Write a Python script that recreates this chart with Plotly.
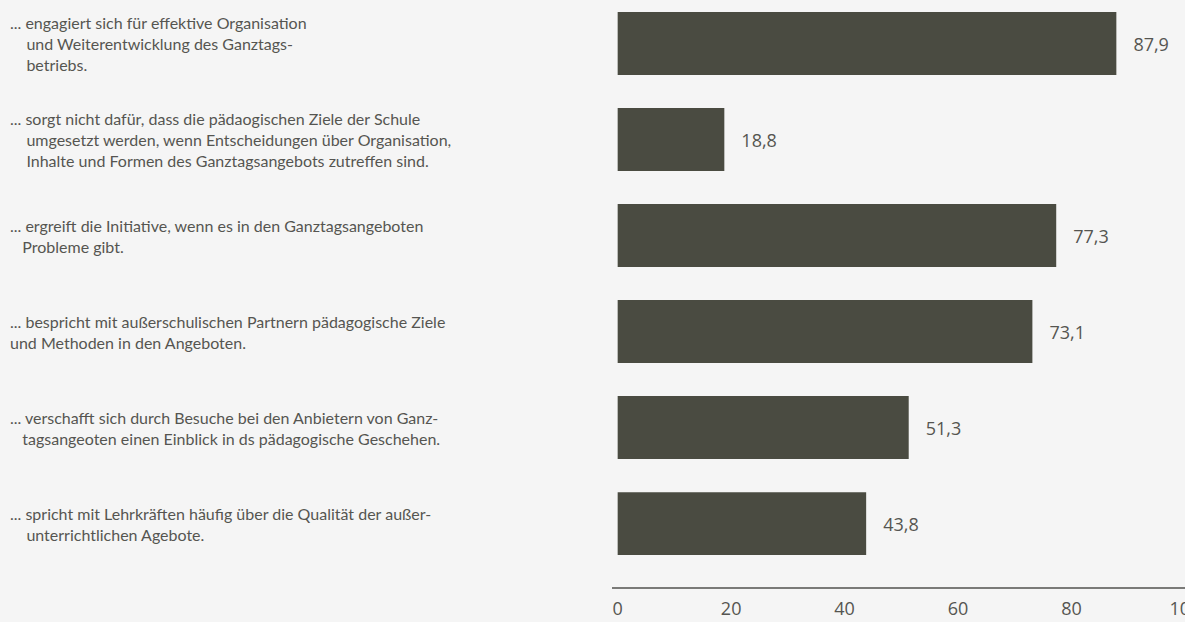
import plotly.graph_objects as go

labels = [
    "... engagiert sich für effektive Organisation<br>\u00a0\u00a0\u00a0\u00a0und Weiterentwicklung des Ganztags-<br>\u00a0\u00a0\u00a0\u00a0betriebs.",
    "... sorgt nicht dafür, dass die pädaogischen Ziele der Schule<br>\u00a0\u00a0\u00a0\u00a0umgesetzt werden, wenn Entscheidungen über Organisation,<br>\u00a0\u00a0\u00a0\u00a0Inhalte und Formen des Ganztagsangebots zutreffen sind.",
    "... ergreift die Initiative, wenn es in den Ganztagsangeboten<br>\u00a0\u00a0\u00a0Probleme gibt.",
    "... bespricht mit außerschulischen Partnern pädagogische Ziele<br>und Methoden in den Angeboten.",
    "... verschafft sich durch Besuche bei den Anbietern von Ganz-<br>\u00a0\u00a0\u00a0tagsangeoten einen Einblick in ds pädagogische Geschehen.",
    "... spricht mit Lehrkräften häufig über die Qualität der außer-<br>\u00a0\u00a0\u00a0\u00a0unterrichtlichen Agebote.",
]
values = [87.9, 18.8, 77.3, 73.1, 51.3, 43.8]
tick_vals = [0, 20, 40, 60, 80, 100]
tick_text = ["0", "20", "40", "60", "80", "100"]

positions = list(range(len(values)))

BG = "#f5f5f5"
BAR = "#4a4b41"
TXT = "#555551"

W, H = 1185, 622
PLOT_L = 612

fig = go.Figure()
fig.add_trace(go.Bar(
    x=values,
    y=positions,
    orientation="h",
    width=0.656,
    marker=dict(color=BAR, line=dict(width=0)),
    text=[("\u00a0\u00a0\u00a0" + f"{v:.1f}".replace(".", ",")) for v in values],
    textposition="outside",
    textfont=dict(family="Open Sans", size=18, color=TXT),
    cliponaxis=False,
    hoverinfo="skip",
))

for lab, pos in zip(labels, positions):
    fig.add_annotation(
        text=lab,
        xref="paper", yref="y",
        x=-(PLOT_L - 8) / (W - PLOT_L), y=pos,
        xanchor="left", yanchor="middle",
        align="left",
        showarrow=False,
        font=dict(family="Lato", size=16, color=TXT),
    )

fig.update_layout(
    width=W, height=H,
    margin=dict(l=PLOT_L, r=0, t=0, b=35, autoexpand=False),
    paper_bgcolor=BG, plot_bgcolor=BG,
    showlegend=False,
    separators=",.",
    xaxis=dict(
        range=[-1, 100],
        tickvals=tick_vals, ticktext=tick_text,
        showgrid=False, zeroline=False,
        showline=True, linecolor="#7a7a78", linewidth=1.5,
        ticks="outside", ticklen=5, tickcolor=BG,
        tickfont=dict(family="Open Sans", size=18, color=TXT),
        ticklabeloverflow="allow",
        automargin=False,
        fixedrange=True,
    ),
    yaxis=dict(
        range=[5.66, -0.453],
        showgrid=False, zeroline=False, showline=False,
        showticklabels=False, ticks="",
        automargin=False,
        fixedrange=True,
    ),
)

fig.write_html(
    "out.html",
    config={"displayModeBar": False},
    post_script="document.body.style.margin='0';document.body.style.background='#f5f5f5';document.body.style.overflow='hidden';",
)
